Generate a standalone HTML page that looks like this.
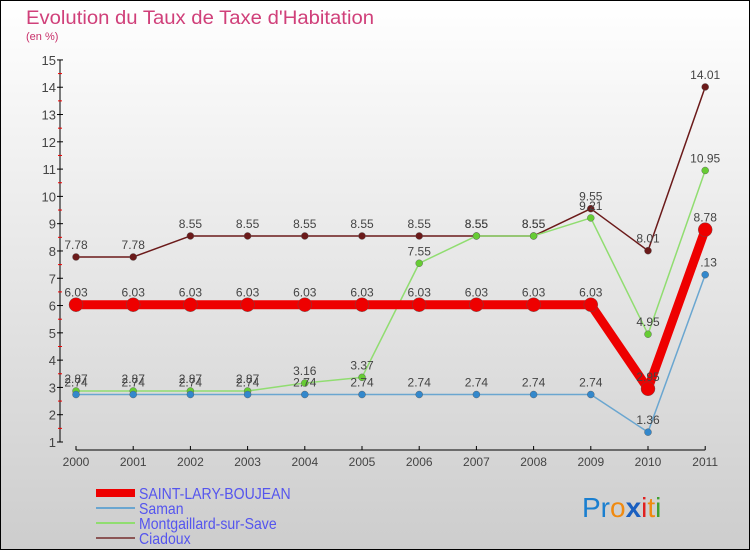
<!DOCTYPE html>
<html><head><meta charset="utf-8"><style>
body{margin:0}
svg{display:block;font-family:"Liberation Sans",sans-serif}
</style></head><body>
<svg width="750" height="550" viewBox="0 0 750 550">
<defs><linearGradient id="bg" x1="0" y1="0" x2="0" y2="1"><stop offset="0" stop-color="#ffffff"/><stop offset="1" stop-color="#cdcdcd"/></linearGradient></defs>
<rect x="0.5" y="0.5" width="749" height="549" fill="url(#bg)" stroke="#000"/>
<text x="26" y="24" font-size="19" fill="#d0407a" textLength="348" lengthAdjust="spacingAndGlyphs">Evolution du Taux de Taxe d'Habitation</text>
<text x="26" y="40" font-size="11" fill="#c8306a">(en %)</text>
<g id="axes"></g>
<g id="series"></g>
<g id="legend"></g>
<text x="582" y="517" font-size="28"><tspan fill="#1a7fd0">Pr</tspan><tspan fill="#f08a10">o</tspan><tspan fill="#1a5fc0" font-weight="bold">x</tspan><tspan fill="#e02020">i</tspan><tspan fill="#f08a10">t</tspan><tspan fill="#40a030">i</tspan></text>
</svg>
<script>
const years=["2000","2001","2002","2003","2004","2005","2006","2007","2008","2009","2010","2011"];
const yTicks=[1,2,3,4,5,6,7,8,9,10,11,12,13,14,15];
const slb=[6.03,6.03,6.03,6.03,6.03,6.03,6.03,6.03,6.03,6.03,2.95,8.78];
const saman=[2.74,2.74,2.74,2.74,2.74,2.74,2.74,2.74,2.74,2.74,1.36,7.13];
const mont=[2.87,2.87,2.87,2.87,3.16,3.37,7.55,8.55,8.55,9.21,4.95,10.95];
const ciadoux=[7.78,7.78,8.55,8.55,8.55,8.55,8.55,8.55,8.55,9.55,8.01,14.01];
const NS="http://www.w3.org/2000/svg";
const X=i=>76+i*57.2;
const Y=v=>442-(v-1)*27.29;
function mk(t,a,p){const e=document.createElementNS(NS,t);for(const k in a)e.setAttribute(k,a[k]);p.appendChild(e);return e;}
const ax=document.getElementById('axes');
let l=mk('line',{x1:60,y1:60,x2:60,y2:442,stroke:'#000'},ax);


yTicks.forEach(v=>{
 mk('line',{x1:57,y1:Y(v),x2:63,y2:Y(v),stroke:'#000'},ax);
 if(v<15){mk('line',{x1:58,y1:Y(v+0.5),x2:62,y2:Y(v+0.5),stroke:'#e00'},ax);}
 const t=mk('text',{x:56,y:Y(v)+5,'font-size':13,fill:'#444','text-anchor':'end'},ax);
 t.textContent=v;
 
 
});
l=mk('line',{x1:X(0),y1:450,x2:X(11),y2:450,stroke:'#000'},ax);


years.forEach((y,i)=>{
 mk('line',{x1:X(i),y1:446,x2:X(i),y2:450,stroke:'#000'},ax);
 const t=mk('text',{x:X(i),y:466,'font-size':12,fill:'#444','text-anchor':'middle'},ax);
 t.textContent=y;
 
 
});
const sg=document.getElementById('series');
const defs=[
 {d:ciadoux,c:'#6b1a1a',w:1.5,r:3.5,n:'ciadoux'},
 {d:mont,c:'#90dd70',w:1.5,r:3.5,n:'montgaillard',f:'#66cc33'},
 {d:saman,c:'#6aa6d0',w:1.5,r:3.5,n:'saman',f:'#3388cc'},
 {d:slb,c:'#ee0000',w:9,r:7,n:'saint-lary-boujean'}
];
defs.forEach(s=>{
 const g=mk('g',{},sg);
 
 
 const p=mk('polyline',{points:s.d.map((v,i)=>X(i)+','+Y(v)).join(' '),fill:'none',stroke:s.c,'stroke-width':s.w,'stroke-linejoin':'round'},g);
 
 
 s.d.forEach((v,i)=>{
  const c=mk('circle',{cx:X(i),cy:Y(v),r:s.r,fill:s.f||s.c,stroke:'#555','stroke-width':0.4},g);
  
  
  const t=mk('text',{x:X(i),y:Y(v)-8,'font-size':12,fill:'#444','text-anchor':'middle'},g);
  t.textContent=v.toFixed(2);
  
  
 });
});
const lg=document.getElementById('legend');
const items=[['SAINT-LARY-BOUJEAN','#ee0000',8],['Saman','#6aa6d0',2],['Montgaillard-sur-Save','#90dd70',2],['Ciadoux','#8b5555',2]];
items.forEach((it,k)=>{
 const y=493+k*15;
 const g=mk('g',{},lg);
 
 
 mk('line',{x1:96,y1:y,x2:135,y2:y,stroke:it[1],'stroke-width':it[2]},g);
 const t=mk('text',{x:139,y:y+6,'font-size':16,fill:'#5555ee'},g);
 t.textContent=it[0];
 t.setAttribute('transform','translate(139,0) scale(0.88,1) translate(-139,0)');
});
</script>
</body></html>
